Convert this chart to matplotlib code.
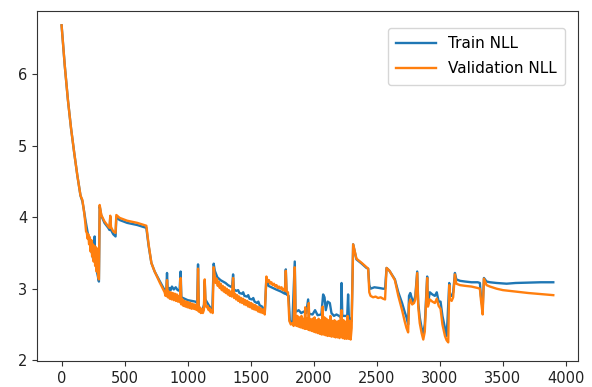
import matplotlib
matplotlib.use("Agg")
import matplotlib.pyplot as plt

train_x = [0, 25, 50, 75, 100, 125, 150, 165, 175, 190, 205, 220, 235, 250, 258, 262, 266, 280, 296,
           302, 315, 340, 370, 380, 386, 392, 410, 428, 434, 460, 520, 600, 672, 690, 712, 738, 780, 817,
           830, 836, 842, 855, 865, 875, 890, 905, 920, 935, 944, 950, 975, 1000, 1030, 1060, 1075, 1082,
           1088, 1110, 1120, 1130, 1135, 1140, 1170, 1195, 1206, 1215, 1235, 1260, 1280, 1300, 1320, 1340,
           1352, 1360, 1366, 1385, 1400, 1410, 1430, 1440, 1450, 1470, 1480, 1490, 1510, 1520, 1530, 1550,
           1560, 1570, 1590, 1611, 1624, 1640, 1700, 1740, 1770, 1778, 1784, 1800, 1810, 1830, 1849, 1855,
           1860, 1880, 1900, 1920, 1940, 1955, 1962, 1990, 2010, 2030, 2060, 2074, 2085, 2095, 2110, 2127,
           2140, 2160, 2180, 2200, 2215, 2220, 2226, 2250, 2265, 2272, 2278, 2300, 2312, 2338, 2380, 2418,
           2431, 2440, 2450, 2480, 2520, 2550, 2565, 2577, 2600, 2643, 2670, 2700, 2720, 2735, 2748, 2755,
           2765, 2780, 2790, 2805, 2820, 2828, 2840, 2855, 2868, 2880, 2899, 2905, 2920, 2940, 2960, 2975,
           2990, 3005, 3020, 3040, 3053, 3060, 3074, 3080, 3093, 3105, 3119, 3130, 3160, 3200, 3250, 3300,
           3317, 3325, 3339, 3349, 3370, 3397, 3450, 3529, 3600, 3700, 3800, 3899]
train_y = [6.68, 6.12, 5.64, 5.24, 4.90, 4.58, 4.30, 4.22, 4.12, 3.95, 3.80, 3.66, 3.55, 3.42, 3.40, 3.73, 3.38, 3.24, 3.10,
           4.15, 4.02, 3.92, 3.85, 3.82, 4.00, 3.82, 3.76, 3.73, 4.00, 3.96, 3.92, 3.89, 3.85, 3.60, 3.36, 3.24, 3.10, 2.98,
           2.97, 3.22, 2.96, 3.01, 2.98, 3.03, 2.99, 3.02, 2.98, 2.97, 3.24, 2.88, 2.86, 2.84, 2.83, 2.82, 2.80, 3.34,
           2.72, 2.70, 2.72, 2.78, 3.10, 2.85, 2.76, 2.69, 3.35, 3.25, 3.16, 3.12, 3.10, 3.08, 3.05, 3.03,
           3.02, 3.20, 2.99, 2.97, 2.98, 2.94, 2.93, 2.95, 2.90, 2.89, 2.91, 2.86, 2.85, 2.87, 2.82, 2.80,
           2.82, 2.77, 2.75, 2.66, 3.15, 3.04, 2.99, 2.96, 2.93, 3.27, 2.92, 2.90, 2.55, 2.52, 3.38, 2.70,
           2.68, 2.70, 2.66, 2.68, 2.66, 2.85, 2.65, 2.64, 2.70, 2.63, 2.64, 2.92, 2.88, 2.70, 2.82, 2.80,
           2.66, 2.62, 2.64, 2.62, 2.60, 3.08, 2.62, 2.62, 2.62, 2.92, 2.60, 2.55, 3.62, 3.41, 3.35, 3.29,
           3.28, 3.05, 3.00, 3.02, 3.01, 3.00, 3.00, 3.29, 3.25, 3.13, 2.95, 2.80, 2.68, 2.60, 2.50, 2.90,
           2.94, 2.85, 2.80, 2.90, 3.24, 2.80, 2.60, 2.45, 2.38, 2.50, 3.17, 2.80, 2.95, 2.92, 2.90, 2.95,
           2.82, 2.82, 2.62, 2.45, 2.34, 2.55, 3.08, 2.90, 2.90, 2.95, 3.22, 3.13, 3.11, 3.10, 3.09, 3.09,
           3.08, 2.90, 2.72, 3.15, 3.10, 3.09, 3.08, 3.07, 3.08, 3.085, 3.09, 3.09]

val_x = [0, 25, 50, 75, 100, 125, 150, 165, 175, 180, 188, 194, 200, 206, 212, 218, 224, 230, 236, 242, 248,
         254, 260, 266, 272, 278, 284, 290, 296,
         302, 315, 340, 370, 380, 386, 392, 410, 428, 434, 460, 520, 600, 672, 690, 712, 738, 780,
         817, 824, 830, 836, 842, 850, 858, 866, 874, 882, 890, 898, 906, 914, 922, 930, 938, 944, 950, 958,
         966, 974, 982, 990, 998, 1006, 1014, 1022, 1030, 1038, 1046, 1054, 1062, 1070, 1076, 1082, 1088,
         1096, 1104, 1112, 1120, 1128, 1135, 1142, 1150, 1158, 1166, 1174, 1182, 1190, 1198, 1206, 1214,
         1222, 1230, 1238, 1246, 1254, 1262, 1270, 1278, 1286, 1294, 1302, 1310, 1318, 1326, 1334, 1342,
         1350, 1360, 1368, 1376, 1384, 1392, 1400, 1408, 1416, 1424, 1432, 1440, 1448, 1456, 1464, 1472,
         1480, 1488, 1496, 1504, 1512, 1520, 1528, 1536, 1544, 1552, 1560, 1568, 1576, 1584, 1592, 1600,
         1611, 1624, 1634, 1644, 1654, 1664, 1674, 1684, 1694, 1704, 1714, 1724, 1734, 1744, 1754, 1764,
         1772, 1778, 1784, 1795, 1806, 1818, 1830, 1840, 1849, 1856, 1862, 1870, 1878, 1886, 1894, 1902,
         1910, 1918, 1926, 1932, 1938, 1946, 1954, 1960, 1966, 1974, 1982, 1990, 1998, 2006, 2014, 2022,
         2030, 2038, 2046, 2054, 2062, 2070, 2076, 2084, 2092, 2100, 2108, 2116, 2124, 2132, 2140, 2148,
         2156, 2164, 2172, 2180, 2188, 2196, 2204, 2212, 2220, 2228, 2236, 2244, 2252, 2260, 2268, 2276,
         2284, 2292, 2300, 2312, 2338, 2380, 2418, 2431, 2440, 2450, 2470, 2490, 2510, 2530, 2550, 2565,
         2577, 2600, 2643, 2670, 2700, 2720, 2735, 2748, 2755, 2765, 2780, 2795, 2805, 2820, 2828, 2840,
         2855, 2868, 2880, 2899, 2905, 2920, 2940, 2960, 2975, 2990, 3005, 3020, 3040, 3053, 3066, 3074,
         3080, 3093, 3105, 3119, 3130, 3160, 3200, 3250, 3300, 3317, 3325, 3339, 3349, 3370, 3397, 3450,
         3500, 3600, 3700, 3800, 3899]
val_y = [6.68, 6.12, 5.64, 5.24, 4.90, 4.58, 4.30, 4.24, 4.12, 4.05, 3.92, 3.80, 3.78, 3.70, 3.76, 3.62, 3.72, 3.52, 3.68, 3.45, 3.62,
         3.38, 3.60, 3.32, 3.58, 3.24, 3.56, 3.18, 3.13,
         4.17, 4.03, 3.94, 3.87, 3.85, 4.02, 3.86, 3.80, 3.78, 4.03, 3.99, 3.95, 3.92, 3.88, 3.62, 3.36, 3.24, 3.08,
         2.95, 2.90, 2.97, 3.12, 2.88, 2.96, 2.86, 2.95, 2.85, 2.94, 2.84, 2.93, 2.83, 2.92, 2.82, 2.90, 2.81, 3.15, 2.78, 2.85,
         2.76, 2.83, 2.75, 2.82, 2.74, 2.81, 2.73, 2.80, 2.72, 2.79, 2.72, 2.78, 2.71, 2.77, 2.70, 3.28, 2.68,
         2.74, 2.66, 2.72, 2.66, 2.70, 3.13, 2.78, 2.74, 2.76, 2.70, 2.73, 2.67, 2.70, 2.66, 3.30, 3.18,
         3.08, 3.14, 3.04, 3.10, 3.01, 3.07, 2.98, 3.04, 2.96, 3.02, 2.94, 3.00, 2.92, 2.98, 2.90, 2.96,
         2.89, 3.15, 2.87, 2.93, 2.85, 2.91, 2.83, 2.89, 2.81, 2.87, 2.80, 2.86, 2.78, 2.84, 2.77, 2.83,
         2.75, 2.81, 2.74, 2.80, 2.72, 2.78, 2.71, 2.77, 2.70, 2.75, 2.68, 2.74, 2.67, 2.72, 2.66, 2.71,
         2.64, 3.17, 3.10, 3.12, 3.07, 3.09, 3.05, 3.07, 3.03, 3.05, 3.01, 3.03, 3.00, 3.02, 2.98, 3.00,
         2.97, 3.25, 2.96, 2.95, 2.55, 2.50, 2.52, 2.48, 3.30, 2.55, 2.48, 2.62, 2.47, 2.60, 2.46, 2.62,
         2.45, 2.58, 2.44, 2.74, 2.44, 2.58, 2.43, 2.80, 2.42, 2.57, 2.41, 2.58, 2.40, 2.60, 2.39, 2.56,
         2.38, 2.58, 2.37, 2.56, 2.36, 2.75, 2.36, 2.60, 2.35, 2.58, 2.34, 2.56, 2.34, 2.62, 2.33, 2.55,
         2.33, 2.56, 2.32, 2.54, 2.32, 2.55, 2.31, 2.58, 2.70, 2.31, 2.56, 2.30, 2.54, 2.30, 2.62, 2.30,
         2.55, 2.29, 2.45, 3.62, 3.42, 3.36, 3.30, 3.28, 2.95, 2.90, 2.88, 2.89, 2.87, 2.88, 2.86, 2.85,
         3.29, 3.25, 3.12, 2.90, 2.70, 2.55, 2.45, 2.39, 2.78, 2.85, 2.78, 2.80, 2.85, 3.22, 2.75, 2.52,
         2.38, 2.29, 2.40, 3.15, 2.75, 2.85, 2.82, 2.80, 2.86, 2.76, 2.72, 2.50, 2.34, 2.28, 2.25, 3.05,
         2.85, 2.83, 2.88, 3.20, 3.07, 3.05, 3.04, 3.03, 3.01, 3.00, 2.85, 2.64, 3.14, 3.05, 3.03, 3.00,
         2.98, 2.96, 2.94, 2.925, 2.91]

fig = plt.figure(figsize=(5.92, 3.87), dpi=100)
ax = fig.add_axes([37 / 592, 26 / 387, 541 / 592, 350 / 387])
ax.plot(train_x, train_y, color="#1f77b4", lw=1.7, label="Train NLL")
ax.plot(val_x, val_y, color="#ff7f0e", lw=1.7, label="Validation NLL")
ax.set_xlim(-195, 4095)
ax.set_ylim(1.99, 6.88)
ax.set_xticks([0, 500, 1000, 1500, 2000, 2500, 3000, 3500, 4000])
ax.set_yticks([2, 3, 4, 5, 6])
ax.tick_params(labelsize=10.5, colors="#333333", labelcolor="#222222")
for s in ax.spines.values():
    s.set_edgecolor("#333333")
leg = ax.legend(loc="upper right", bbox_to_anchor=(565 / 592, (387 - 28) / 387),
                bbox_transform=fig.transFigure, borderaxespad=0, fontsize=11,
                handlelength=2.6, labelspacing=0.65, borderpad=0.55)
fig.savefig("out.png", dpi=100)
